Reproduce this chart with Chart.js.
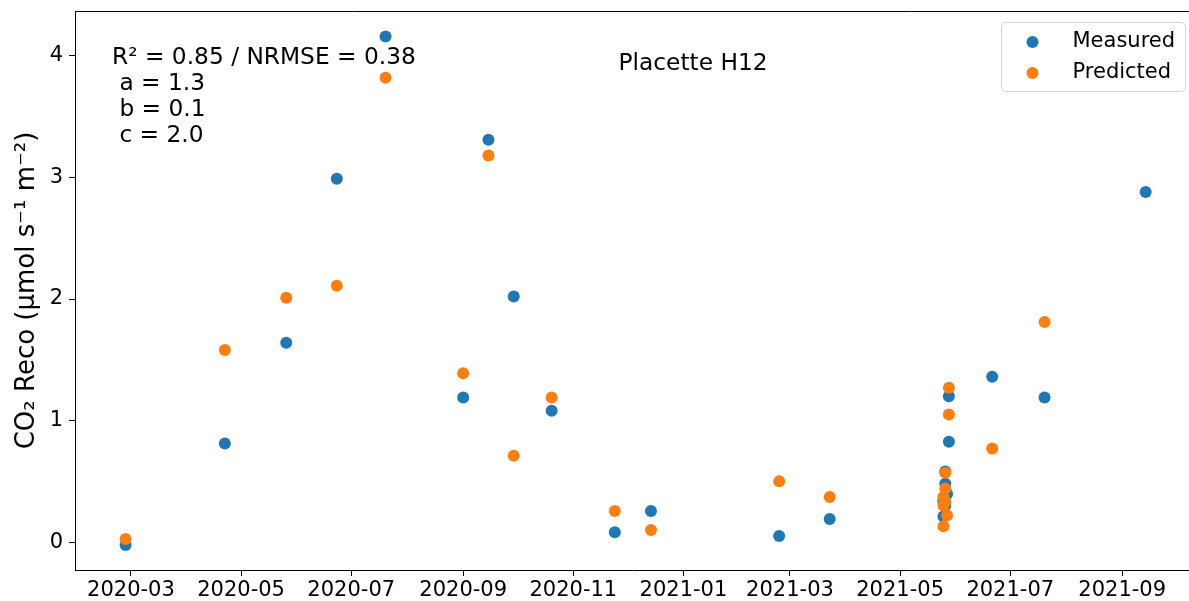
<!DOCTYPE html>
<html>
<head>
<meta charset="utf-8">
<script src="https://cdn.jsdelivr.net/npm/chart.js@4.4.1/dist/chart.umd.min.js"></script>
<style>
  html, body { margin: 0; padding: 0; background: #fff; overflow: hidden; }
  #wrap { width: 1189px; height: 601px; position: relative; }
</style>
</head>
<body>
<div id="wrap"><canvas id="recoChart"></canvas></div>
<script>
// ----------- Data -----------------
const dates = [
    '2020-02-27', '2020-04-22', '2020-05-26', '2020-06-23', '2020-07-20',
    '2020-09-01', '2020-09-15', '2020-09-29', '2020-10-20', '2020-11-24',
    '2020-12-14', '2021-02-23', '2021-03-23',
    '2021-05-25', '2021-05-25', '2021-05-25', '2021-05-26', '2021-05-26',
    '2021-05-26', '2021-05-27', '2021-05-28', '2021-05-28',
    '2021-06-21', '2021-07-20', '2021-09-14'
];
const measured = [
    -0.025, 0.81, 1.64, 2.99, 4.16,
    1.19, 3.31, 2.02, 1.08, 0.08,
    0.255, 0.05, 0.19,
    0.35, 0.21, 0.33, 0.58, 0.48,
    0.30, 0.395, 0.825, 1.20,
    1.36, 1.19, 2.88
];
const predicted = [
    0.025, 1.58, 2.01, 2.11, 3.82,
    1.39, 3.18, 0.71, 1.19, 0.255,
    0.10, 0.50, 0.37,
    0.37, 0.13, 0.30, 0.57, 0.44,
    0.33, 0.22, 1.05, 1.27,
    0.77, 1.81, null
];
const xTickLabels = ['2020-03', '2020-05', '2020-07', '2020-09', '2020-11',
                     '2021-01', '2021-03', '2021-05', '2021-07', '2021-09'];
const yTickValues = [0, 1, 2, 3, 4];
const seriesNames = ['Measured', 'Predicted'];
const statLines = ['R\u00B2 = 0.85 / NRMSE = 0.38', ' a = 1.3', ' b = 0.1', ' c = 2.0'];
const plotTitle = 'Placette H12';

const FONT = "'DejaVu Sans', sans-serif";
const BLUE = '#1f77b4';
const ORANGE = '#ff7f0e';

const toMs = d => Date.parse(d + 'T00:00:00Z');
const toPoints = vals => dates.map((d, i) => ({x: toMs(d), y: vals[i]})).filter(p => p.y !== null);

// ----------- Extra drawing: top spine, text, legend ----------------
// (the right spine falls just outside the picture, so it is not drawn)
const framePlugin = {
    id: 'frame',
    afterDraw(chart) {
        const {ctx, chartArea: a} = chart;
        ctx.save();
        ctx.strokeStyle = '#000';
        ctx.lineWidth = 1;
        ctx.beginPath();
        ctx.moveTo(a.left, a.top + 0.5);
        ctx.lineTo(a.right, a.top + 0.5);
        ctx.stroke();

        // stats text
        ctx.fillStyle = '#000';
        ctx.font = '23.3px ' + FONT;
        ctx.textBaseline = 'alphabetic';
        ctx.textAlign = 'left';
        statLines.forEach((t, i) => {
            ctx.fillText(t, a.left + 37, a.top + 53 + i * 26);
        });
        ctx.textAlign = 'center';
        ctx.fillText(plotTitle, a.left + 618, a.top + 59);

        // legend
        const bx = a.right - 187.5, by = a.top + 11.5, bw = 184, bh = 69;
        ctx.fillStyle = 'rgba(255,255,255,0.8)';
        ctx.strokeStyle = '#d6d6d6';
        ctx.beginPath();
        ctx.roundRect(bx, by, bw, bh, 4);
        ctx.fill();
        ctx.stroke();
        const colors = [BLUE, ORANGE];
        ctx.font = '21px ' + FONT;
        ctx.textAlign = 'left';
        seriesNames.forEach((n, i) => {
            ctx.fillStyle = colors[i];
            ctx.beginPath();
            ctx.arc(bx + 31, by + 19.5 + i * 31, 6, 0, Math.PI * 2);
            ctx.fill();
            ctx.fillStyle = '#000';
            ctx.fillText(n, bx + 71, by + 24.5 + i * 31);
        });
        ctx.restore();
    }
};

new Chart(document.getElementById('recoChart'), {
    type: 'scatter',
    data: {
        datasets: [
            {label: seriesNames[0], data: toPoints(measured), backgroundColor: BLUE,
             borderWidth: 0, pointRadius: 6, pointHoverRadius: 6, order: 1},
            {label: seriesNames[1], data: toPoints(predicted), backgroundColor: ORANGE,
             borderWidth: 0, pointRadius: 6, pointHoverRadius: 6, order: 0}
        ]
    },
    options: {
        responsive: true,
        maintainAspectRatio: false,
        animation: false,
        layout: {autoPadding: false, padding: {top: 11, right: 0, left: 0, bottom: 0}},
        plugins: {
            legend: {display: false},
            tooltip: {enabled: false}
        },
        scales: {
            x: {
                type: 'linear',
                min: toMs('2020-01-30'),
                max: toMs('2021-10-08'),
                afterBuildTicks: scale => {
                    scale.ticks = xTickLabels.map(l => ({value: toMs(l + '-01')}));
                },
                afterFit: scale => {
                    scale.height = 31;
                    scale.paddingLeft = 0;
                    scale.paddingRight = 0;
                },
                ticks: {
                    color: '#000',
                    font: {family: FONT, size: 21},
                    padding: 2,
                    maxRotation: 0,
                    autoSkip: false,
                    callback: v => new Date(v).toISOString().slice(0, 7)
                },
                grid: {display: true, drawOnChartArea: false, drawTicks: true, tickLength: 6, color: '#000'},
                border: {display: true, color: '#000'}
            },
            y: {
                min: -0.23,
                max: 4.37,
                afterBuildTicks: scale => {
                    scale.ticks = yTickValues.map(v => ({value: v}));
                },
                afterFit: scale => {
                    scale.width = 75;
                    scale.paddingTop = 0;
                    scale.paddingBottom = 0;
                },
                ticks: {
                    color: '#000',
                    font: {family: FONT, size: 21},
                    padding: 6,
                    callback: v => v
                },
                grid: {display: true, drawOnChartArea: false, drawTicks: true, tickLength: 6, color: '#000'},
                border: {display: true, color: '#000'},
                title: {
                    display: true,
                    text: 'CO\u2082 Reco (\u00B5mol s\u207B\u00B9 m\u207B\u00B2)',
                    color: '#000',
                    font: {family: FONT, size: 26},
                    padding: {top: 12, bottom: 0}
                }
            }
        }
    },
    plugins: [framePlugin]
});
</script>
</body>
</html>
